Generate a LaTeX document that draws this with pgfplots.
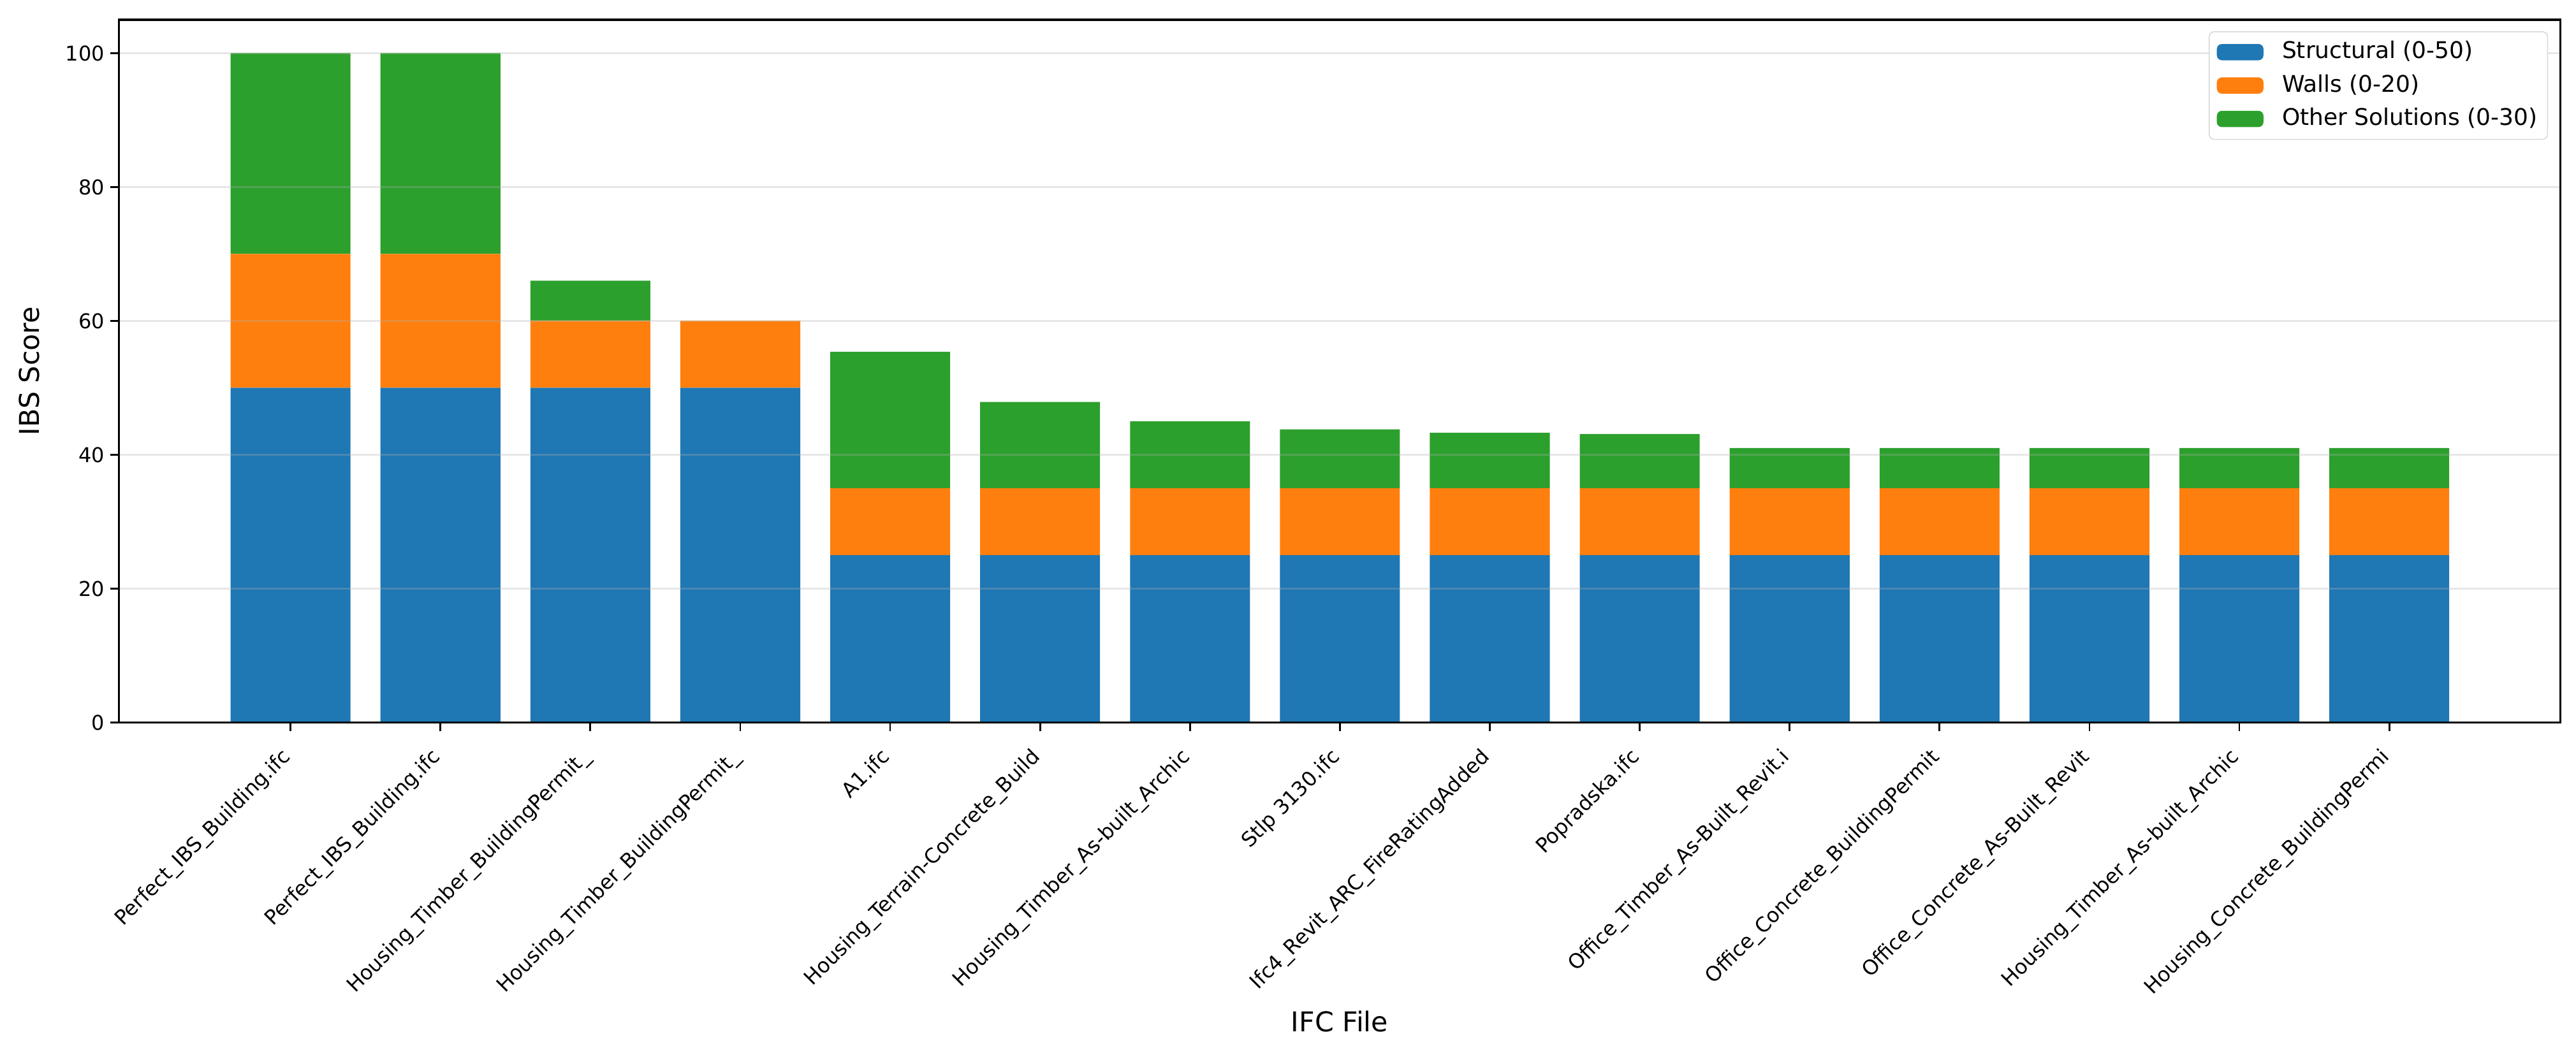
\documentclass[border=0pt]{standalone}
\usepackage{fontspec}
\setmainfont{DejaVu Sans}
\usepackage{pgfplots}
\usepackage{pgfplotstable}
\pgfplotsset{compat=1.18}

\definecolor{tabblue}{HTML}{1F77B4}
\definecolor{taborange}{HTML}{FF7F0E}
\definecolor{tabgreen}{HTML}{2CA02C}
\definecolor{gridgray}{HTML}{B0B0B0}
\definecolor{legedge}{HTML}{D9D9D9}

% IBS score parts for each IFC file
\pgfplotstableread{
idx struct walls other
0  50 20 30
1  50 20 30
2  50 10 6
3  50 10 0
4  25 10 20.4
5  25 10 12.9
6  25 10 10
7  25 10 8.8
8  25 10 8.3
9  25 10 8.1
10 25 10 6
11 25 10 6
12 25 10 6
13 25 10 6
14 25 10 6
}\scores

\tikzset{xlab/.style={font=\fontsize{8}{10}\selectfont, inner sep=0pt, rotate=45, anchor=north east}}
\newcommand{\xlabel}[2]{\node[xlab] at ([xshift=-4pt, yshift=-9.4pt]axis cs:#1,0) {#2};}

\begin{document}
\begin{tikzpicture}
\begin{axis}[
  axis on top,
  scale only axis,
  width=957.1pt,
  height=275.6pt,
  ybar stacked,
  bar width=0.8,
  xmin=-1.1435, xmax=15.14,
  ymin=0, ymax=105,
  clip=false,
  xtick={0,...,14},
  xticklabels={},
  ytick={0,20,...,100},
  tick align=outside,
  major tick length=3.5pt,
  tick style={black, line width=0.7pt},
  xtick pos=bottom, ytick pos=left,
  axis line style={black, line width=0.8pt},
  ymajorgrids,
  grid style={gridgray, draw opacity=0.3, line width=0.8pt},
  /pgf/number format/assume math mode=true,
  yticklabel style={font=\fontsize{8}{10}\selectfont, inner sep=2pt},
  xlabel={IFC File},
  ylabel={IBS Score},
  every axis x label/.style={at={(rel axis cs:0.5,0)}, yshift=-117.3pt, anchor=center, font=\fontsize{10.7}{13}\selectfont},
  every axis y label/.style={at={(rel axis cs:0,0.5)}, xshift=-35.3pt, rotate=90, anchor=center, font=\fontsize{10.7}{13}\selectfont},
  legend style={at={(rel axis cs:1,1)}, xshift=-4.75pt, yshift=-4.5pt, anchor=north east,
    draw=legedge, rounded corners=2pt, fill=white, font=\fontsize{9}{11}\selectfont,
    inner xsep=3pt, inner ysep=2.5pt, row sep=2.1pt,
    nodes={inner sep=1pt, text height=7pt, text depth=2pt},
    /tikz/every odd column/.append style={column sep=6.3pt}},
  legend cell align=left,
  legend image code/.code={\fill[#1] (0pt,-3.2pt) rectangle (18.3pt,3.2pt);},
]
\addplot[fill=tabblue, draw=none] table[x=idx, y=struct] {\scores};
\addlegendentry{Structural (0-50)}
\addplot[fill=taborange, draw=none] table[x=idx, y=walls] {\scores};
\addlegendentry{Walls (0-20)}
\addplot[fill=tabgreen, draw=none] table[x=idx, y=other] {\scores};
\addlegendentry{Other Solutions (0-30)}

% file names under the ticks, as matplotlib sets them (rotation 45, right aligned)
\xlabel{0}{Perfect\_IBS\_Building.ifc}
\xlabel{1}{Perfect\_IBS\_Building.ifc}
\xlabel{2}{Housing\_Timber\_BuildingPermit\_}
\xlabel{3}{Housing\_Timber\_BuildingPermit\_}
\xlabel{4}{A1.ifc}
\xlabel{5}{Housing\_Terrain-Concrete\_Build}
\xlabel{6}{Housing\_Timber\_As-built\_Archic}
\xlabel{7}{Stlp 3130.ifc}
\xlabel{8}{Ifc4\_Revit\_ARC\_FireRatingAdded}
\xlabel{9}{Popradska.ifc}
\xlabel{10}{Office\_Timber\_As-Built\_Revit.i}
\xlabel{11}{Office\_Concrete\_BuildingPermit}
\xlabel{12}{Office\_Concrete\_As-Built\_Revit}
\xlabel{13}{Housing\_Timber\_As-built\_Archic}
\xlabel{14}{Housing\_Concrete\_BuildingPermi}
\end{axis}
\path (-46.7pt,-129.4pt) rectangle (963.3pt,283.35pt);
\end{tikzpicture}
\end{document}
